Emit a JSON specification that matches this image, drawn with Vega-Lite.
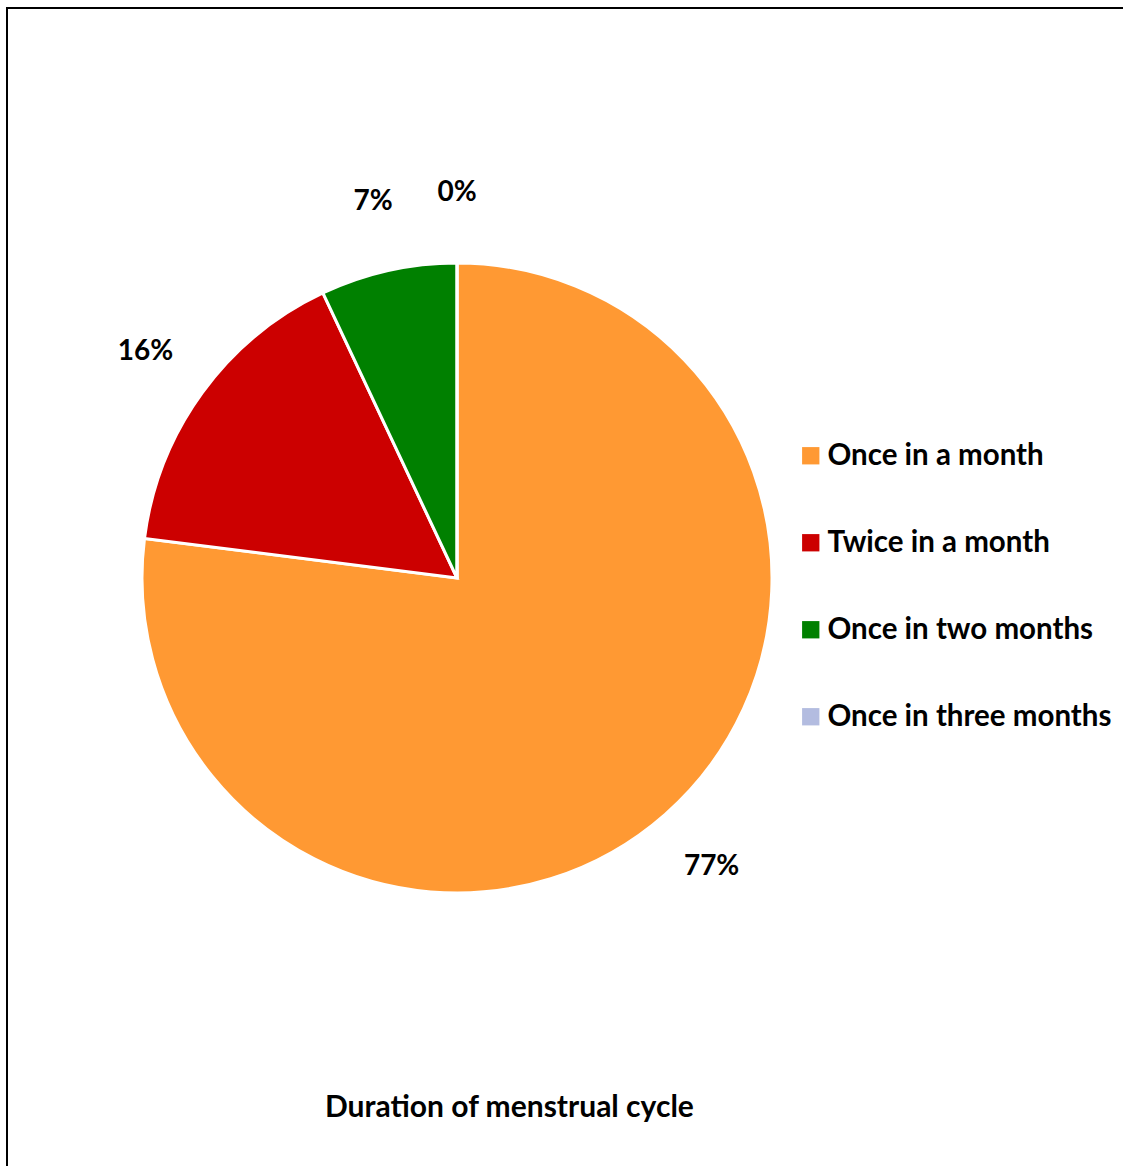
{
  "$schema": "https://vega.github.io/schema/vega-lite/v6.json",
  "autosize": "none",
  "padding": {"left": 7, "top": 8, "right": 0, "bottom": 0},
  "width": 1130,
  "height": 1172,
  "background": "white",
  "config": {
    "view": {"stroke": "black", "strokeWidth": 2},
    "font": "Lato"
  },
  "title": {
    "text": "Duration of menstrual cycle",
    "orient": "bottom",
    "anchor": "start",
    "offset": -87,
    "dx": 318,
    "font": "Lato",
    "fontSize": 30,
    "fontWeight": "bold",
    "color": "black"
  },
  "data": {
    "values": [
      {"k": 1, "category": "Once in a month", "share": 0.77},
      {"k": 2, "category": "Twice in a month", "share": 0.16},
      {"k": 3, "category": "Once in two months", "share": 0.07},
      {"k": 4, "category": "Once in three months", "share": 0.0}
    ]
  },
  "encoding": {
    "theta": {"field": "share", "type": "quantitative", "stack": true},
    "order": {"field": "k", "type": "quantitative"},
    "x": {"value": 450},
    "y": {"value": 570}
  },
  "layer": [
    {
      "mark": {"type": "arc", "outerRadius": 315, "stroke": "white", "strokeWidth": 3},
      "encoding": {
        "color": {
          "field": "category",
          "type": "nominal",
          "sort": ["Once in a month", "Twice in a month", "Once in two months", "Once in three months"],
          "scale": {
            "domain": ["Once in a month", "Twice in a month", "Once in two months", "Once in three months"],
            "range": ["#FF9933", "#CC0000", "#008000", "#B3BCE0"]
          },
          "legend": {
            "title": null,
            "orient": "none",
            "legendX": 789,
            "legendY": 433,
            "symbolType": "square",
            "symbolSize": 300,
            "symbolStrokeWidth": 0,
            "labelFont": "Lato",
            "labelFontSize": 29.5,
            "labelFontWeight": "bold",
            "labelColor": "black",
            "labelOffset": 2,
            "labelLimit": 400,
            "rowPadding": 56
          }
        }
      }
    },
    {
      "mark": {"type": "text", "radius": 385, "font": "Lato", "fontSize": 28, "fontWeight": "bold", "color": "black"},
      "encoding": {
        "text": {"field": "share", "type": "quantitative", "format": ".0%"}
      }
    }
  ]
}
